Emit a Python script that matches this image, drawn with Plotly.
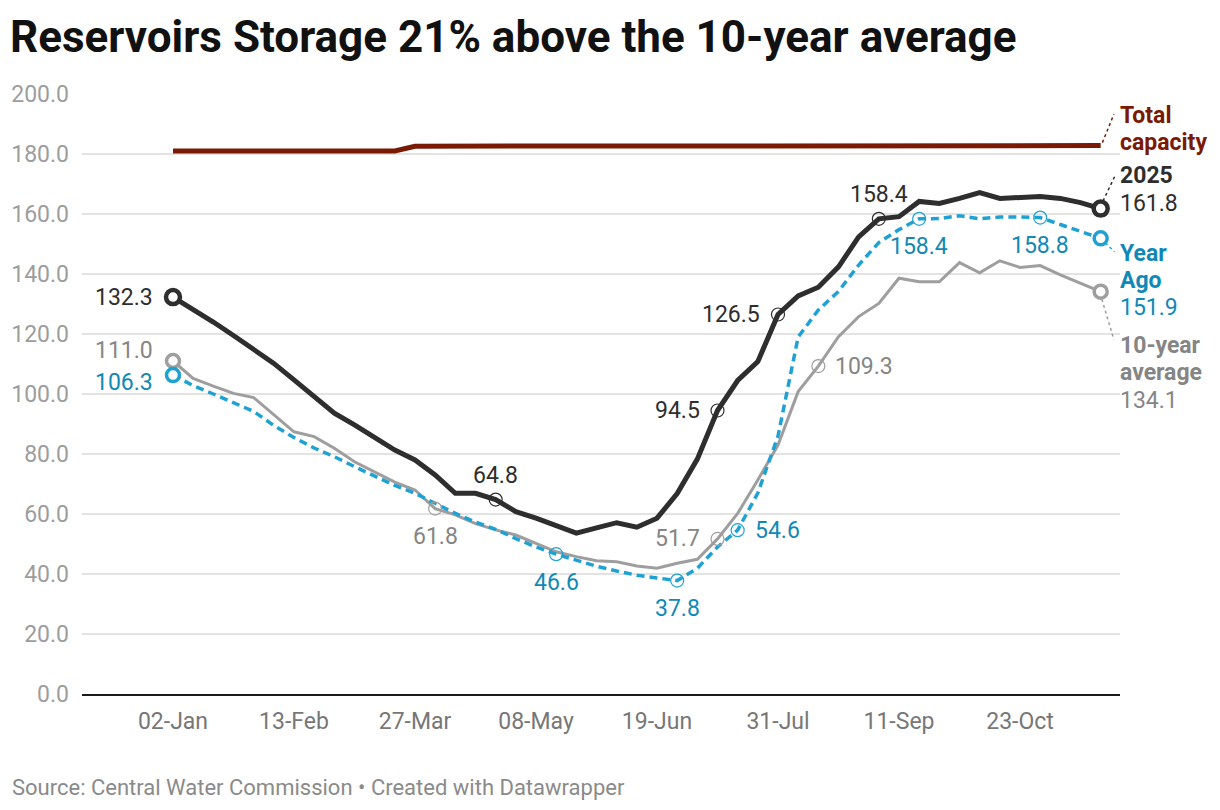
import plotly.graph_objects as go
import pandas as pd

# ---------------- data ----------------
dates = [
    "2025-01-02", "2025-01-09", "2025-01-16", "2025-01-23", "2025-01-30",
    "2025-02-06", "2025-02-13", "2025-02-20", "2025-02-27",
    "2025-03-06", "2025-03-13", "2025-03-20", "2025-03-27",
    "2025-04-03", "2025-04-10", "2025-04-17", "2025-04-24",
    "2025-05-01", "2025-05-08", "2025-05-15", "2025-05-22", "2025-05-29",
    "2025-06-05", "2025-06-12", "2025-06-19", "2025-06-26",
    "2025-07-03", "2025-07-10", "2025-07-17", "2025-07-24", "2025-07-31",
    "2025-08-07", "2025-08-14", "2025-08-21", "2025-08-28",
    "2025-09-04", "2025-09-11", "2025-09-18", "2025-09-25",
    "2025-10-02", "2025-10-09", "2025-10-16", "2025-10-23", "2025-10-30",
    "2025-11-06", "2025-11-13", "2025-11-20",
]

total_capacity = [
    181.0, 181.0, 181.0, 181.0, 181.0, 181.0, 181.0, 181.0, 181.0, 181.0,
    181.0, 181.0, 182.6, 182.6, 182.6, 182.6, 182.6, 182.6, 182.6, 182.6,
    182.6, 182.6, 182.6, 182.6, 182.6, 182.6, 182.6, 182.8, 182.8, 182.8,
    182.8, 182.8, 182.8, 182.8, 182.8, 182.8, 182.8, 182.8, 182.8, 182.8,
    182.8, 182.8, 182.8, 182.8, 182.8, 182.8, 182.8,
]

storage_2025 = [
    132.3, 128.2, 124.0, 119.5, 115.0, 110.2, 104.7, 99.2, 93.6, 89.7,
    85.5, 81.3, 78.0, 73.0, 66.9, 66.9, 64.8, 60.8, 58.6, 56.1,
    53.6, 55.4, 57.1, 55.6, 58.6, 66.8, 78.3, 94.5, 104.5, 110.8,
    126.5, 132.7, 135.6, 142.4, 152.4, 158.4, 159.1, 164.2, 163.5, 165.2,
    167.1, 165.2, 165.6, 165.8, 165.2, 163.8, 161.8,
]

year_ago = [
    106.3, 102.8, 100.0, 97.0, 94.2, 89.5, 85.5, 82.0, 79.1, 75.8,
    72.6, 69.5, 66.9, 63.5, 60.2, 57.3, 54.9, 51.8, 49.0, 46.6,
    44.6, 42.6, 41.0, 39.6, 38.7, 37.8, 41.9, 49.0, 54.6, 67.0,
    86.0, 119.0, 128.0, 134.2, 143.0, 150.5, 154.8, 158.4, 158.5, 159.4,
    158.4, 159.0, 159.0, 158.8, 156.5, 154.2, 151.9,
]

ten_year_avg = [
    111.0, 105.2, 102.6, 100.2, 98.8, 93.1, 87.4, 85.8, 81.9, 77.4,
    74.1, 70.6, 68.0, 61.8, 59.7, 56.8, 54.7, 53.0, 50.2, 47.4,
    45.8, 44.4, 44.1, 42.7, 41.9, 43.6, 44.9, 51.7, 60.2, 71.3,
    83.0, 100.8, 109.3, 119.1, 125.8, 130.2, 138.6, 137.4, 137.4, 143.8,
    140.4, 144.4, 142.2, 142.8, 139.7, 136.9, 134.1,
]

x_tick_labels = ["02-Jan", "13-Feb", "27-Mar", "08-May", "19-Jun", "31-Jul", "11-Sep", "23-Oct"]
y_tick_values = [0, 20, 40, 60, 80, 100, 120, 140, 160, 180, 200]

# points that carry a value label: index -> placement
labels_2025 = {0: "left", 16: "above", 27: "left", 30: "left", 35: "above"}
labels_year_ago = {0: "left", 19: "below", 25: "below", 28: "right", 37: "below", 43: "below"}
labels_ten_year = {0: "left", 13: "below", 27: "left", 32: "right"}

# ---------------- styles ----------------
FONT = "Roboto"
C_RED = "#7a1a05"
C_BLACK = "#2e2e2e"
C_BLUE_LINE = "#1fa2d3"
C_BLUE_TEXT = "#1189b6"
C_GRAY_LINE = "#9e9e9e"
C_GRAY_TEXT = "#858585"

fig = go.Figure()

fig.add_trace(go.Scatter(x=dates, y=total_capacity, mode="lines",
                         line=dict(color=C_RED, width=5), hoverinfo="skip"))
fig.add_trace(go.Scatter(x=dates, y=ten_year_avg, mode="lines",
                         line=dict(color=C_GRAY_LINE, width=3), hoverinfo="skip"))
fig.add_trace(go.Scatter(x=dates, y=year_ago, mode="lines",
                         line=dict(color=C_BLUE_LINE, width=3.5, dash="8px,5px"), hoverinfo="skip"))
fig.add_trace(go.Scatter(x=dates, y=storage_2025, mode="lines",
                         line=dict(color=C_BLACK, width=5), hoverinfo="skip"))

annotations = []


def add_series_labels(values, label_map, line_color, text_color, end_size, end_width, first_shift):
    idx_small = [i for i in label_map if i != 0]
    # small hollow circles
    fig.add_trace(go.Scatter(
        x=[dates[i] for i in idx_small], y=[values[i] for i in idx_small],
        mode="markers", hoverinfo="skip",
        marker=dict(symbol="circle-open", size=13, color=line_color, line=dict(width=1.2, color=line_color))))
    # endpoint circles
    ends = [0, len(values) - 1]
    fig.add_trace(go.Scatter(
        x=[dates[i] for i in ends], y=[values[i] for i in ends],
        mode="markers", hoverinfo="skip",
        marker=dict(symbol="circle", size=end_size, color="white",
                    line=dict(width=end_width, color=line_color))))
    for i, pos in label_map.items():
        a = dict(x=dates[i], y=values[i], text=f"{values[i]:.1f}", showarrow=False,
                 font=dict(family=FONT, size=23, color=text_color))
        if pos == "left":
            a.update(xanchor="right", yanchor="middle", xshift=-16)
            if i == 0:
                a.update(xshift=-18, yshift=first_shift)
        elif pos == "right":
            a.update(xanchor="left", yanchor="middle", xshift=15)
        elif pos == "above":
            a.update(xanchor="center", yanchor="middle", yshift=24)
        else:
            a.update(xanchor="center", yanchor="middle", yshift=-28)
        annotations.append(a)


add_series_labels(ten_year_avg, labels_ten_year, C_GRAY_LINE, C_GRAY_TEXT, 13, 3.5, 11)
add_series_labels(year_ago, labels_year_ago, C_BLUE_LINE, C_BLUE_TEXT, 13, 3.5, -7)
add_series_labels(storage_2025, labels_2025, C_BLACK, C_BLACK, 14, 4.5, 0)

last = len(dates) - 1
last_date = pd.Timestamp(dates[last])
end_x = dates[last]


def end_label(value, lines, color):
    for text, shift, bold in lines:
        annotations.append(dict(x=end_x, y=value, xanchor="left", yanchor="middle",
                                xshift=17, yshift=shift, showarrow=False, align="left",
                                text=f"<b>{text}</b>" if bold else text,
                                font=dict(family=FONT, size=23, color=color)))


end_label(total_capacity[last], [("Total", 30.5, True), ("capacity", 3.5, True)], C_RED)
end_label(storage_2025[last], [("2025", 33.5, True), (f"{storage_2025[last]:.1f}", 5.3, False)], C_BLACK)
end_label(year_ago[last], [("Year", -15, True), ("Ago", -42.4, True), (f"{year_ago[last]:.1f}", -69, False)], C_BLUE_TEXT)
end_label(ten_year_avg[last], [("10-year", -53.3, True), ("average", -81, True), (f"{ten_year_avg[last]:.1f}", -108.3, False)], C_GRAY_TEXT)

# source line
annotations.append(dict(xref="paper", yref="paper", x=-0.0694, y=-0.155, xanchor="left", yanchor="middle",
                        showarrow=False, text="Source: Central Water Commission • Created with Datawrapper",
                        font=dict(family=FONT, size=22, color="#8a8a8a")))


# dotted leader lines from end points to end labels
def d(days):
    return (last_date + pd.Timedelta(days=days)).strftime("%Y-%m-%d %H:%M")


shapes = [
    dict(type="line", xref="x", yref="y", x0=d(0.6), y0=total_capacity[last] + 1.0, x1=d(4.6), y1=total_capacity[last] + 10.5,
         line=dict(color=C_RED, width=1.5, dash="dot")),
    dict(type="line", xref="x", yref="y", x0=d(0.8), y0=storage_2025[last] + 2.5, x1=d(5.0), y1=storage_2025[last] + 11.0,
         line=dict(color=C_BLACK, width=1.5, dash="dot")),
    dict(type="line", xref="x", yref="y", x0=d(1.6), y0=year_ago[last] - 1.5, x1=d(4.8), y1=year_ago[last] - 4.5,
         line=dict(color=C_BLUE_LINE, width=1.5, dash="dot")),
    dict(type="line", xref="x", yref="y", x0=d(0.4), y0=ten_year_avg[last] - 2.5, x1=d(4.6), y1=ten_year_avg[last] - 16.0,
         line=dict(color=C_GRAY_LINE, width=1.5, dash="dot")),
]

fig.update_layout(
    width=1220, height=810,
    margin=dict(l=82, r=100, t=94, b=116),
    paper_bgcolor="white", plot_bgcolor="white",
    showlegend=False,
    font=dict(family=FONT),
    title=dict(text="<b>Reservoirs Storage 21% above the 10-year average</b>",
               x=10 / 1220, xref="container", xanchor="left",
               y=1 - 37 / 810, yref="container", yanchor="middle",
               font=dict(family=FONT, size=44, color="#111111")),
    xaxis=dict(
        type="date",
        range=["2024-12-01 10:00", "2025-11-26 17:00"],
        tickvals=dates[::6], ticktext=x_tick_labels,
        showgrid=False, zeroline=False,
        showline=True, linecolor="#1a1a1a", linewidth=2,
        ticks="", ticklabelstandoff=5,
        tickfont=dict(family=FONT, size=23, color="#777777"),
        fixedrange=True,
    ),
    yaxis=dict(
        range=[0, 200],
        tickvals=y_tick_values, tickformat=".1f",
        showgrid=True, gridcolor="#e3e3e3", gridwidth=1.5,
        zeroline=False, showline=False, ticks="",
        ticklabelstandoff=12,
        tickfont=dict(family=FONT, size=23, color="#9d9d9d"),
        fixedrange=True,
    ),
    annotations=annotations,
    shapes=shapes,
)

fig.write_html("out.html", config={"displayModeBar": False},
               post_script="document.body.style.margin='0px';document.body.style.overflow='hidden';")
